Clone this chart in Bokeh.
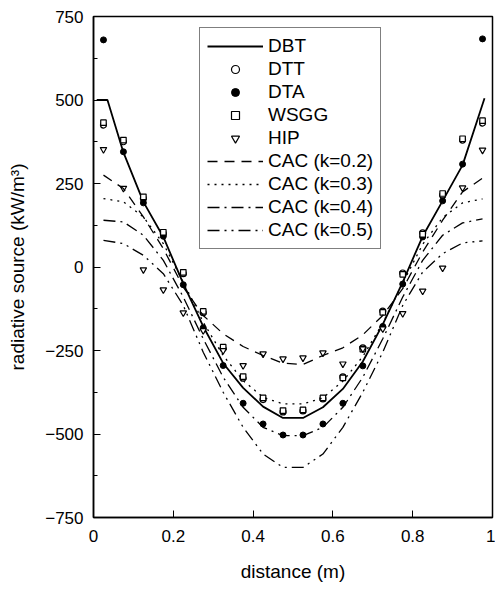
from bokeh.plotting import figure
from bokeh.models import Range1d, FixedTicker, Legend, LegendItem
from bokeh.embed import file_html
from bokeh.resources import INLINE

# ---- data ----
nodes = [0.025, 0.075, 0.125, 0.175, 0.225, 0.275, 0.325, 0.375, 0.425, 0.475,
         0.525, 0.575, 0.625, 0.675, 0.725, 0.775, 0.825, 0.875, 0.925, 0.975]

dbt_x = [0.008, 0.035, 0.075, 0.125, 0.175, 0.225, 0.275, 0.325, 0.375, 0.425, 0.475,
         0.525, 0.575, 0.625, 0.675, 0.725, 0.775, 0.825, 0.875, 0.925, 0.98]
dbt_y = [500, 500, 343, 195, 90, -50, -178, -288, -362, -418, -452,
         -452, -420, -365, -283, -172, -45, 92, 198, 305, 505]

dtt = [425, 375, 205, 100, -20, -137, -244, -333, -397, -434,
       -431, -395, -329, -242, -132, -18, 102, 215, 380, 431]
dta = [680, 345, 192, 92, -53, -182, -295, -408, -470, -503,
       -503, -470, -408, -296, -178, -51, 90, 198, 308, 683]
wsgg = [432, 380, 210, 104, -16, -133, -240, -328, -392, -430,
        -428, -392, -332, -246, -136, -22, 98, 220, 384, 438]
hip = [352, 236, -8, -68, -137, -190, -250, -295, -260, -275,
       -272, -257, -290, -245, -185, -139, -72, -3, 237, 350]

cac02 = [275, 235, 150, 55, -60, -145, -200, -238, -265, -288,
         -292, -265, -242, -203, -145, -65, 45, 140, 225, 266]
cac03 = [205, 195, 150, 70, -45, -165, -265, -340, -390, -410,
         -410, -392, -342, -268, -168, -48, 68, 148, 192, 204]
cac04 = [140, 135, 95, 20, -90, -215, -330, -420, -480, -505,
         -505, -480, -420, -330, -215, -90, 20, 95, 132, 144]
cac05 = [80, 70, 35, -20, -115, -255, -375, -480, -560, -600,
         -600, -560, -480, -375, -255, -115, -15, 40, 72, 78]

x_ticks = [0, 0.2, 0.4, 0.6, 0.8, 1]
x_tick_labels = {0: "0", 0.2: "0.2", 0.4: "0.4", 0.6: "0.6", 0.8: "0.8", 1: "1"}
y_ticks = [-750, -500, -250, 0, 250, 500, 750]
y_minor = [-625, -375, -125, 125, 375, 625]

FONT = "Liberation Sans"

p = figure(width=495, height=592, output_backend="svg", toolbar_location=None,
           x_range=Range1d(0, 1), y_range=Range1d(-750, 750),
           min_border_left=93, min_border_right=3, min_border_top=16,
           min_border_bottom=75)
p.grid.visible = False
p.outline_line_color = "black"
p.outline_line_width = 1.5
p.background_fill_color = "white"

for ax in (p.xaxis[0], p.yaxis[0]):
    ax.axis_line_color = "black"
    ax.axis_line_width = 1.5
    ax.major_tick_in = 7
    ax.major_tick_out = 0
    ax.minor_tick_in = 4
    ax.minor_tick_out = 0
    ax.major_tick_line_color = "black"
    ax.minor_tick_line_color = "black"
    ax.major_label_text_font = FONT
    ax.major_label_text_font_size = "17px"
    ax.major_label_text_color = "black"
    ax.axis_label_text_font = FONT
    ax.axis_label_text_font_size = "19px"
    ax.axis_label_text_font_style = "normal"
    ax.axis_label_text_color = "black"

p.xaxis.ticker = FixedTicker(ticks=x_ticks, minor_ticks=[])
p.xaxis.major_label_overrides = x_tick_labels
p.xaxis.major_label_standoff = 12
p.xaxis.axis_label = "distance (m)"
p.xaxis.axis_label_standoff = 16

p.yaxis.ticker = FixedTicker(ticks=y_ticks, minor_ticks=y_minor)
p.yaxis.major_label_standoff = 10
p.yaxis.axis_label = "radiative source (kW/m³)"
p.yaxis.axis_label_standoff = 14

r_dbt = p.line(dbt_x, dbt_y, line_color="black", line_width=1.8)
r_dtt = p.scatter(nodes, dtt, marker="circle", size=6, fill_color="white",
                  line_color="black", line_width=1.2)
r_dta = p.scatter(nodes, dta, marker="circle", size=6, fill_color="black",
                  line_color="black")
r_wsgg = p.scatter(nodes, wsgg, marker="square", size=5.5, fill_color="white",
                   line_color="black", line_width=1.2)
r_hip = p.scatter(nodes, hip, marker="inverted_triangle", size=6.5, fill_color="white",
                  line_color="black", line_width=1.2)
r_c2 = p.line(nodes, cac02, line_color="black", line_width=1.3, line_dash="10 7")
r_c3 = p.line(nodes, cac03, line_color="black", line_width=1.3, line_dash="2 5")
r_c4 = p.line(nodes, cac04, line_color="black", line_width=1.3, line_dash="12 5 2 5")
r_c5 = p.line(nodes, cac05, line_color="black", line_width=1.3, line_dash="12 5 2 5 2 5")

legend = Legend(items=[
    LegendItem(label="DBT", renderers=[r_dbt]),
    LegendItem(label="DTT", renderers=[r_dtt]),
    LegendItem(label="DTA", renderers=[r_dta]),
    LegendItem(label="WSGG", renderers=[r_wsgg]),
    LegendItem(label="HIP", renderers=[r_hip]),
    LegendItem(label="CAC (k=0.2)", renderers=[r_c2]),
    LegendItem(label="CAC (k=0.3)", renderers=[r_c3]),
    LegendItem(label="CAC (k=0.4)", renderers=[r_c4]),
    LegendItem(label="CAC (k=0.5)", renderers=[r_c5]),
], location=(106, 268))
legend.border_line_color = "black"
legend.border_line_width = 1.5
legend.background_fill_color = "white"
legend.background_fill_alpha = 1
legend.margin = 0
legend.padding = 7
legend.spacing = 1
legend.glyph_width = 56
legend.glyph_height = 20
legend.label_height = 20
legend.label_standoff = 5
legend.label_text_font = FONT
legend.label_text_font_size = "19px"
legend.label_text_line_height = 1.0
legend.label_text_color = "black"
p.add_layout(legend)

open("out.html", "w").write(file_html(p, INLINE))
